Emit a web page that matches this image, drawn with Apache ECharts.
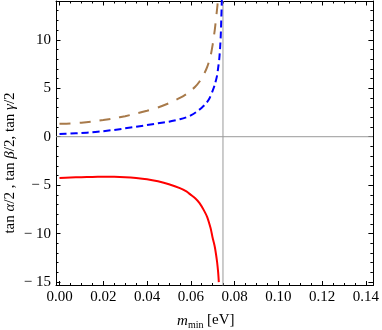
<!DOCTYPE html>
<html>
<head>
<meta charset="utf-8">
<script src="https://cdn.jsdelivr.net/npm/echarts@6/dist/echarts.min.js"></script>
<style>
html,body{margin:0;padding:0;background:#fff;}
#chart{width:382px;height:330px;}
</style>
</head>
<body>
<div id="chart"></div>
<script>
// ---- data ----
const redX   = [0, 0.005, 0.01, 0.015, 0.02, 0.025, 0.03, 0.035, 0.04, 0.045, 0.05, 0.055, 0.058, 0.06, 0.062, 0.064, 0.066, 0.0675, 0.069, 0.0695, 0.070, 0.0705, 0.071, 0.0715, 0.072, 0.0725, 0.0728];
const redY   = [-4.25, -4.2, -4.17, -4.15, -4.14, -4.14, -4.17, -4.25, -4.38, -4.6, -4.9, -5.3, -5.65, -6.0, -6.35, -6.85, -7.6, -8.3, -9.4, -9.9, -10.45, -10.9, -11.4, -12.1, -12.9, -14.0, -15.0];
const brownX = [0, 0.005, 0.01, 0.015, 0.02, 0.025, 0.03, 0.035, 0.04, 0.045, 0.05, 0.055, 0.058, 0.06, 0.062, 0.064, 0.066, 0.0675, 0.069, 0.070, 0.0705, 0.071, 0.0718, 0.0722, 0.0726];
const brownY = [1.33, 1.37, 1.45, 1.56, 1.72, 1.9, 2.12, 2.38, 2.68, 3.02, 3.45, 4.0, 4.4, 4.75, 5.15, 5.7, 6.45, 7.2, 8.3, 9.5, 10.3, 11.1, 12.75, 13.6, 14.5];
const blueX  = [0, 0.005, 0.01, 0.015, 0.02, 0.025, 0.03, 0.035, 0.04, 0.045, 0.05, 0.055, 0.058, 0.06, 0.0625, 0.065, 0.067, 0.0685, 0.070, 0.071, 0.072, 0.0725, 0.073, 0.0734, 0.0737, 0.0739, 0.0741, 0.0742];
const blueY  = [0.28, 0.32, 0.38, 0.46, 0.57, 0.7, 0.86, 1.02, 1.2, 1.38, 1.55, 1.8, 2.0, 2.2, 2.55, 3.0, 3.45, 3.95, 4.75, 5.4, 6.3, 7.1, 8.0, 9.2, 10.5, 12.0, 13.4, 14.5];
const asymptoteX = 0.0747;
const xMajor = [0, 0.02, 0.04, 0.06, 0.08, 0.10, 0.12, 0.14];
const yMajor = [-15, -10, -5, 0, 5, 10];
const xRange = [-0.0016, 0.1432];
const yRange = [-15.35, 14.0];

// minor tick positions built from major steps
const xMinor = [];
for (let i = -1; i <= 29; i++) { const v = +(i * 0.005).toFixed(4); if (v > xRange[0] && v < xRange[1]) xMinor.push(v); }
const yMinor = [];
for (let v = -16; v <= 14; v++) { if (v > yRange[0] && v < yRange[1]) yMinor.push(v); }

const pair = (xs, ys) => xs.map((x, i) => [x, ys[i]]);
const serif = '"Liberation Serif", "DejaVu Serif", serif';

function xAx(pos, ticks, len, showLine, showLabel) {
  return {
    type: 'value', position: pos, min: xRange[0], max: xRange[1],
    axisLine: { show: showLine, onZero: false, lineStyle: { color: '#000', width: 1 } },
    axisTick: { show: true, inside: true, length: len, customValues: ticks, lineStyle: { color: '#000', width: 1 } },
    axisLabel: { show: showLabel, customValues: xMajor, margin: 4, color: '#000', fontFamily: serif, fontSize: 15,
      formatter: v => v.toFixed(2) },
    splitLine: { show: false }
  };
}
function yAx(pos, ticks, len, showLine, showLabel) {
  return {
    type: 'value', position: pos, min: yRange[0], max: yRange[1],
    axisLine: { show: showLine, onZero: false, lineStyle: { color: '#000', width: 1 } },
    axisTick: { show: true, inside: true, length: len, customValues: ticks, lineStyle: { color: '#000', width: 1 } },
    axisLabel: { show: showLabel, customValues: yMajor, margin: 5, color: '#000', fontFamily: serif, fontSize: 15,
      formatter: v => v < 0 ? '\u2212 ' + Math.abs(v) : String(v) },
    splitLine: { show: false }
  };
}

const refStyle = { color: '#9a9a9a', width: 1, type: 'solid' };
const chart = echarts.init(document.getElementById('chart'), null, { renderer: 'canvas' });
chart.setOption({
  animation: false,
  backgroundColor: '#fff',
  grid: { left: 56, right: 9, top: 1, bottom: 44.5, containLabel: false },
  xAxis: [
    xAx('bottom', xMajor, 4.5, true, true),
    xAx('bottom', xMinor, 2.5, false, false),
    xAx('top', xMajor, 4.5, true, false),
    xAx('top', xMinor, 2.5, false, false)
  ],
  yAxis: [
    yAx('left', yMajor, 4.5, true, true),
    yAx('left', yMinor, 2.5, false, false),
    yAx('right', yMajor, 4.5, true, false),
    yAx('right', yMinor, 2.5, false, false)
  ],
  series: [
    { type: 'line', data: [[asymptoteX, yRange[0]], [asymptoteX, yRange[1]]], showSymbol: false, silent: true, z: 1, lineStyle: refStyle },
    { type: 'line', data: [[xRange[0], 0], [xRange[1], 0]], showSymbol: false, silent: true, z: 1, lineStyle: refStyle },
    {
      name: 'brown', type: 'line', data: pair(brownX, brownY), showSymbol: false, z: 3,
      smooth: 0.25, clip: true,
      lineStyle: { color: '#a87a4a', width: 2, type: [11, 9] }
    },
    {
      name: 'blue', type: 'line', data: pair(blueX, blueY), showSymbol: false, z: 3,
      smooth: 0.25, clip: true,
      lineStyle: { color: '#0000ff', width: 2, type: [7, 4] }
    },
    {
      name: 'red', type: 'line', data: pair(redX, redY), showSymbol: false, z: 3,
      smooth: 0.25, clip: true,
      lineStyle: { color: '#ff0000', width: 2, type: 'solid' }
    }
  ],
  graphic: [
    {
      type: 'text', x: 10, y: 163, rotation: Math.PI / 2,
      style: {
        text: '{r|tan }{i|α}{r|/2 , tan }{i|β}{r|/2, tan }{i|γ}{r|/2}',
        align: 'center', verticalAlign: 'middle',
        rich: {
          r: { fontFamily: serif, fontSize: 15, fill: '#000', color: '#000' },
          i: { fontFamily: serif, fontSize: 15, fontStyle: 'italic', fill: '#000', color: '#000' }
        }
      }
    },
    { type: 'text', x: 177, y: 321, style: { text: 'm', fontFamily: serif, fontSize: 15, fontStyle: 'italic', fill: '#000', verticalAlign: 'middle' } },
    { type: 'text', x: 188, y: 325, style: { text: 'min', fontFamily: serif, fontSize: 10, fill: '#000', verticalAlign: 'middle' } },
    { type: 'text', x: 207, y: 320, style: { text: '[eV]', fontFamily: serif, fontSize: 15, fill: '#000', verticalAlign: 'middle' } }
  ]
});
</script>
</body>
</html>
